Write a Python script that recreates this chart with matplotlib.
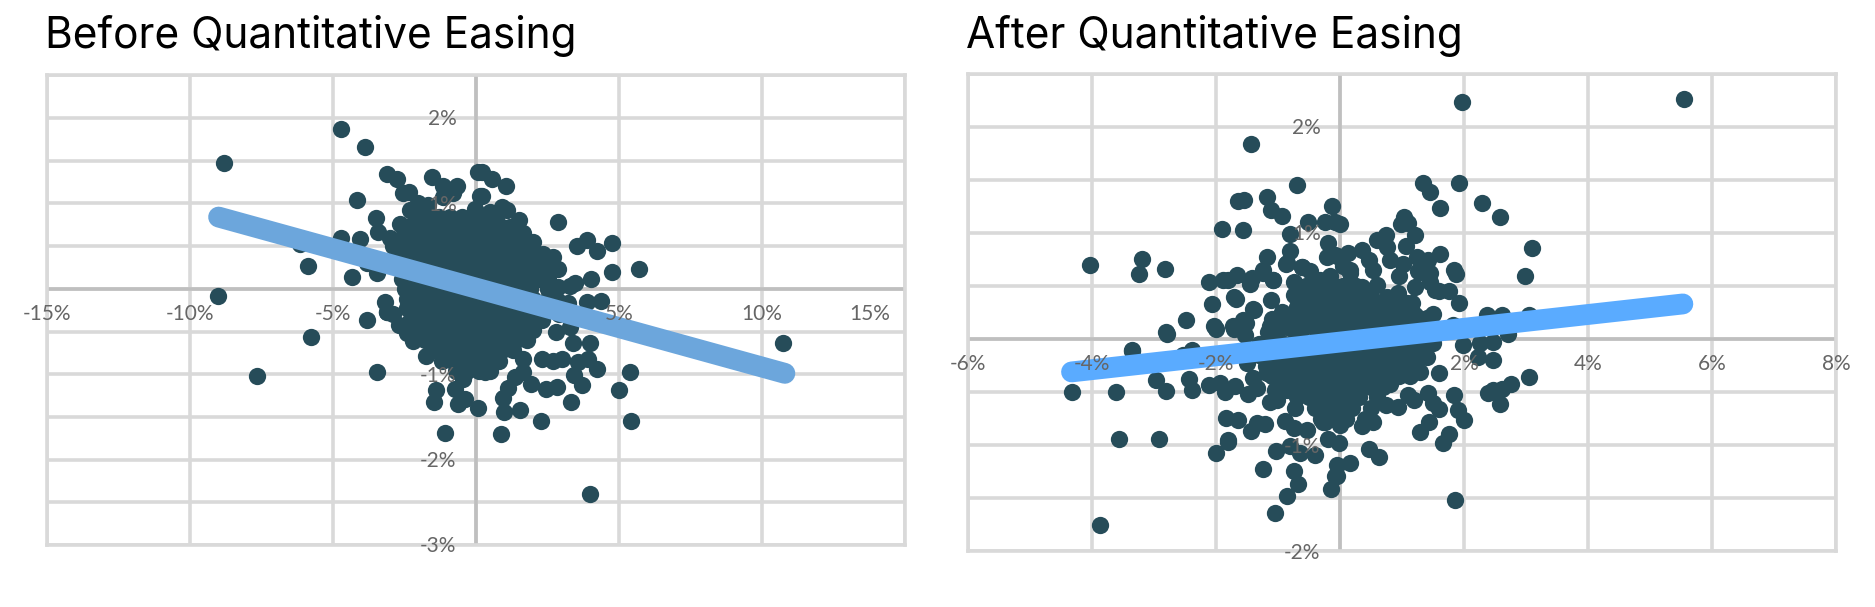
import matplotlib
matplotlib.use("Agg")
import matplotlib.pyplot as plt

plt.rcParams['font.family'] = ['Inter', 'DejaVu Sans']

W, H = 1875, 607
DOT = '#264C59'
GRID = '#D9D9D9'
ZERO = '#BFBFBF'
LABEL = '#666666'

# values, in percent
before_out = [(-8.81,1.47),(-4.72,1.87),(-3.87,1.66),(-3.10,1.35),(-2.75,1.29),(-1.55,1.31),(-1.14,1.20),(-0.68,1.20),
    (-2.56,1.12),(-2.33,1.13),(-4.17,1.04),(-3.51,0.83),(-5.86,0.27),(-4.34,0.14),(-9.03,-0.09),(-4.72,0.60),(-4.06,0.58),
    (-6.15,0.53),(-3.42,0.66),(-2.66,0.76),(-2.31,0.92),(-2.02,1.00),(-1.68,0.98),(-1.15,1.08),(-0.80,1.12),(0.07,1.37),
    (0.14,1.09),(-0.03,0.94),(-3.82,0.30),(-3.47,0.18),(-3.19,-0.16),(-3.12,-0.27),(-2.42,-0.23),(-3.82,-0.37),
    (0.20,1.37),(0.57,1.29),(1.04,1.20),(0.22,1.09),(0.90,0.96),(1.09,0.92),(0.49,0.90),(1.49,0.80),(1.66,0.65),(2.00,0.55),
    (2.88,0.78),(3.52,0.50),(3.87,0.57),(4.24,0.44),(4.74,0.54),(2.68,0.37),(2.86,0.23),(4.74,0.20),(5.71,0.23),(4.02,0.12),
    (3.46,0.07),(3.29,0.03),(2.88,0.02),(3.87,-0.15),(4.37,-0.14),(2.34,0.41),(3.22,-0.17),(2.87,-0.14),
    (-5.77,-0.57),(-3.10,-0.27),(-3.45,-0.97),(-2.21,-0.61),(-1.75,-0.79),(-1.40,-1.19),(-1.47,-1.32),(-0.73,-1.17),
    (-0.38,-1.29),(-0.62,-1.35),(0.06,-1.40),(-1.08,-1.69),(0.86,-1.70),(0.99,-1.44),(1.54,-1.42),(2.26,-1.55),(3.31,-1.33),
    (0.95,-1.28),(1.13,-1.16),(1.36,-1.03),(1.65,-0.97),(1.91,-1.12),(2.45,-1.17),(2.82,-1.15),(3.70,-1.13),(3.44,-1.01),
    (4.24,-0.94),(5.38,-0.97),(5.01,-1.18),(5.42,-1.55),(3.99,-2.40),(3.92,-0.82),(3.57,-0.86),(3.99,-0.63),(3.39,-0.64),
    (2.30,-0.82),(2.70,-0.85),(3.00,-0.82),(1.65,-0.82),(-0.44,-1.06),(0.31,-0.98),(10.75,-0.63),(-7.66,-1.02),
    (-2.5,0.72),(-2.2,0.76),(-3.0,0.60),(-2.9,0.50),(-1.9,0.86),(-2.9,-0.30),(-2.7,-0.42),(-2.4,-0.52),(-2.3,-0.38),(2.9,-0.3),(2.8,-0.5),(3.3,-0.45)]
before_core = {
    0.84: [-1.7,-1.3,-0.9,-0.5,-0.1,0.3,0.7],
    0.72: [-1.9,-1.5,-1.1,-0.7,-0.3,0.1,0.5,0.9,1.2],
    0.60: [-2.6,-2.2,-1.8,-1.4,-1.0,-0.6,-0.2,0.2,0.6,1.0,1.4],
    0.48: [-2.8,-2.4,-2.0,-1.6,-1.2,-0.8,-0.4,0.0,0.4,0.8,1.2,1.6,1.9],
    0.36: [-2.8,-2.4,-2.0,-1.6,-1.2,-0.8,-0.4,0.0,0.4,0.8,1.2,1.6,2.0,2.2],
    0.24: [-2.7,-2.3,-1.9,-1.5,-1.1,-0.7,-0.3,0.1,0.5,0.9,1.3,1.7,2.1,2.4],
    0.12: [-2.6,-2.2,-1.8,-1.4,-1.0,-0.6,-0.2,0.2,0.6,1.0,1.4,1.8,2.2,2.5],
    0.00: [-2.5,-2.1,-1.7,-1.3,-0.9,-0.5,-0.1,0.3,0.7,1.1,1.5,1.9,2.5],
    -0.12: [-2.4,-2.0,-1.6,-1.2,-0.8,-0.4,0.0,0.4,0.8,1.2,1.6,2.0,2.5],
    -0.24: [-2.3,-1.9,-1.5,-1.1,-0.7,-0.3,0.1,0.5,0.9,1.3,1.7,2.1,2.4],
    -0.36: [-2.1,-1.7,-1.3,-0.9,-0.5,-0.1,0.3,0.7,1.1,1.5,1.9,2.3],
    -0.48: [-2.0,-1.6,-1.2,-0.8,-0.4,0.0,0.4,0.8,1.2,1.6,2.0],
    -0.60: [-1.8,-1.4,-1.0,-0.6,-0.2,0.2,0.6,1.0,1.4,1.8],
    -0.72: [-1.5,-1.1,-0.7,-0.3,0.1,0.5,0.9,1.3],
    -0.84: [-1.2,-0.8,-0.4,0.0,0.4,0.8],
    -0.96: [-0.7,-0.3,0.1,0.5],
}
after_out = [(-1.44,1.84),(-0.70,1.45),(-1.17,1.34),(-1.65,1.30),(-1.55,1.31),(-1.11,1.21),(-0.93,1.16),(-0.13,1.25),(-0.52,1.10),
    (-0.25,1.10),(-0.08,1.10),(-0.80,0.99),(-1.91,1.04),(-1.56,1.03),(-0.19,0.90),(-0.81,0.83),(-1.17,0.77),(-0.86,0.72),(-0.21,0.77),
    (-0.05,0.78),(-4.03,0.70),(-3.19,0.75),(-3.25,0.61),(-2.82,0.66),(-2.12,0.54),(-1.89,0.56),(-1.80,0.56),(-1.66,0.60),(-1.45,0.52),
    (-1.42,0.57),(-1.24,0.62),(-1.08,0.56),(-0.62,0.68),(-0.48,0.64),(-0.74,0.54),(-0.75,0.41),(-2.06,0.33),(-1.71,0.40),(-1.11,0.37),
    (-1.41,0.28),(-0.94,0.25),(-1.10,0.19),(-2.49,0.18),(-2.03,0.12),(-1.56,0.18),(-1.72,0.12),(-2.80,0.07),(-1.13,0.12),(-0.70,0.10),
    (-0.32,0.56),(-0.16,0.59),(-0.60,0.49),(-0.38,0.43),(-0.16,0.43),(-0.54,0.30),(-0.27,0.27),(-0.05,0.27),(-0.65,0.24),(-0.43,0.18),
    (-0.16,0.15),(-0.05,0.49),(5.55,2.26),(1.97,2.23),(1.34,1.47),(1.45,1.38),(1.92,1.47),(1.62,1.23),(2.29,1.28),(2.58,1.15),(3.10,0.86),
    (2.98,0.59),(0.00,1.08),(1.04,1.15),(0.98,1.08),(1.10,1.09),(1.21,0.98),(0.74,0.98),(0.59,0.93),(1.06,0.88),(0.35,0.84),(0.13,0.81),
    (0.46,0.74),(1.61,0.80),(1.42,0.74),(1.24,0.77),(0.75,0.87),(0.81,0.74),(1.02,0.71),(1.84,0.65),(1.87,0.61),(1.26,0.64),(1.45,0.62),
    (1.45,0.54),(0.95,0.59),(0.59,0.51),(0.35,0.49),(0.16,0.62),(0.05,0.69),(0.54,0.65),(1.21,0.49),(1.75,0.45),(1.59,0.45),(1.92,0.34),
    (0.94,0.43),(1.16,0.34),(0.54,0.37),(1.50,0.24),(1.21,0.23),(2.37,0.23),(2.61,0.23),(3.05,0.23),(1.83,0.13),(0.91,0.24),(0.27,0.34),
    (-0.16,0.37),(0.00,0.24),(0.59,0.18),(-0.08,0.79),(0.16,0.65),(1.29,0.63),(1.53,0.46),(1.08,0.34),(1.18,0.24),
    (-1.53,0.04),(-1.16,0.07),(-1.02,0.02),(-0.73,0.08),(-1.45,0.54),(-1.24,0.65),(-1.08,0.56),(-0.87,0.71),(-0.62,0.68),
    (-0.15,-1.41),(1.85,-1.52),(-0.05,-1.29),(-0.05,-1.19),(0.16,-1.17),(0.47,-1.04),(0.63,-1.11),(-0.19,-0.94),(-0.01,-0.98),(1.29,-0.88),
    (1.44,-0.78),(1.66,-0.98),(1.76,-0.89),(2.00,-0.76),(1.91,-0.67),(1.84,-0.53),(1.59,-0.66),(1.50,-0.60),(1.42,-0.51),(1.20,-0.57),
    (1.10,-0.53),(0.94,-0.64),(0.74,-0.62),(0.54,-0.78),(0.35,-0.82),(0.00,-0.81),(-0.24,-0.78),(2.58,-0.61),(2.39,-0.51),(2.47,-0.48),
    (2.61,-0.47),(2.75,-0.42),(3.05,-0.36),(2.47,-0.20),(2.23,-0.17),(1.59,-0.32),(1.99,-0.06),(2.26,-0.04),(2.47,-0.03),(2.71,0.05),
    (1.50,-0.04),(1.40,-0.17),(1.29,-0.31),(1.13,-0.35),(0.81,-0.42),(0.59,-0.45),
    (-4.32,-0.50),(-3.62,-0.50),(-3.36,-0.10),(-2.79,0.05),(-2.96,-0.39),(-2.81,-0.49),(-2.43,-0.38),(-2.38,-0.48),(-2.12,-0.43),(-1.94,-0.41),
    (-1.85,-0.50),(-1.69,-0.44),(-1.48,-0.52),(-1.34,-0.46),(-2.38,-0.10),(-2.53,-0.15),(-3.56,-0.94),(-2.92,-0.94),(-2.00,-1.07),(-1.80,-0.95),
    (-1.80,-0.97),(-1.84,-0.74),(-1.65,-0.76),(-1.44,-0.87),(-1.34,-0.79),(-1.21,-0.80),(-1.03,-1.05),(-1.24,-1.22),(-0.74,-1.24),(-0.68,-1.37),
    (-0.85,-1.48),(-1.05,-1.64),(-3.87,-1.75),(-0.80,-1.01),(-0.65,-1.07),(-0.40,-1.09),(-0.08,-1.29),(-1.13,-0.59),(-1.01,-0.57),(-0.89,-0.77),
    (-0.75,-0.84),(-0.54,-0.86),(-0.27,-0.78),(-0.73,-0.65),(-1.05,-0.48),(-1.40,-0.37),(-1.18,-0.32),(-0.81,-0.26),(-0.54,-0.48),(-0.38,-0.61),
    (-0.16,-0.67),(-0.86,-0.48),(-0.44,-0.26),(-0.16,-0.32),(-0.76,-0.39),(-0.38,-0.41),(-0.05,-0.48),(-1.50,-0.23),(-1.08,-0.26),
    (-2.00,0.09),(-1.68,0.38),(-1.39,0.27),(-1.08,0.15),(-0.92,0.23),(-1.51,0.15),(-3.35,-0.11),(-1.71,0.09)]
after_core = {
    0.50: [-0.55,-0.35,-0.15,0.05,0.25],
    0.40: [-0.7,-0.5,-0.3,-0.1,0.1,0.3,0.5,0.75],
    0.30: [-0.7,-0.5,-0.3,-0.1,0.1,0.3,0.5,0.7,0.9,1.1],
    0.20: [-0.75,-0.55,-0.35,-0.15,0.05,0.25,0.45,0.65,0.85,1.05,1.25,1.4],
    0.10: [-1.0,-0.8,-0.6,-0.4,-0.2,0.0,0.2,0.4,0.6,0.8,1.0,1.2,1.4],
    -0.05: [-1.3,-1.1,-0.9,-0.7,-0.5,-0.3,-0.1,0.1,0.3,0.5,0.7,0.9,1.1,1.3],
    -0.15: [-1.3,-1.1,-0.9,-0.7,-0.5,-0.3,-0.1,0.1,0.3,0.5,0.7,0.9,1.1,1.3],
    -0.25: [-1.2,-1.0,-0.8,-0.6,-0.4,-0.2,0.0,0.2,0.4,0.6,0.8,1.0,1.2],
    -0.35: [-1.1,-0.9,-0.7,-0.5,-0.3,-0.1,0.1,0.3,0.5,0.7,0.95],
    -0.45: [-0.9,-0.7,-0.5,-0.3,-0.1,0.1,0.3,0.5,0.7],
    -0.55: [-0.7,-0.5,-0.3,-0.1,0.1,0.3,0.6],
    -0.65: [-0.4,-0.2,0.0,0.2,0.5],
    -0.75: [-0.3,-0.1,0.1,0.4],
}
before_line_x = [-9.0, 10.8]
before_line_y = [0.84, -0.99]
after_line_x = [-4.33, 5.53]
after_line_y = [-0.31, 0.33]

before_xlabels = {-15: '-15%', -10: '-10%', -5: '-5%', 5: '5%', 10: '10%', 13.75: '15%'}
before_ylabels = {2: '2%', 1: '1%', -1: '-1%', -2: '-2%', -3: '-3%'}
after_xlabels = {-6: '-6%', -4: '-4%', -2: '-2%', 2: '2%', 4: '4%', 6: '6%', 8: '8%'}
after_ylabels = {2: '2%', 1: '1%', -1: '-1%', -2: '-2%'}


def draw_panel(box, xlim, ylim, xstep, title, out, core, line_x, line_y, line_col, xlabels, ylabels):
    left, top, right, bottom = box
    ax = fig.add_axes([left / W, 1 - bottom / H, (right - left) / W, (bottom - top) / H])
    ax.set_xlim(*xlim)
    ax.set_ylim(*ylim)
    n = round((xlim[1] - xlim[0]) / xstep)
    ax.set_xticks([xlim[0] + i * xstep for i in range(n + 1)])
    n = round((ylim[1] - ylim[0]) / 0.5)
    ax.set_yticks([ylim[0] + i * 0.5 for i in range(n + 1)])
    ax.tick_params(length=0, labelbottom=False, labelleft=False)
    ax.grid(True, color=GRID, lw=2.6, zorder=0)
    ax.set_axisbelow(True)
    for s in ax.spines.values():
        s.set_color(GRID)
        s.set_linewidth(2.6)
    ax.axhline(0, color=ZERO, lw=2.6, zorder=1)
    ax.axvline(0, color=ZERO, lw=2.6, zorder=1)

    xs = [p[0] for p in out]
    ys = [p[1] for p in out]
    for y, row in core.items():
        xs += row
        ys += [y] * len(row)
    ax.scatter(xs, ys, s=155, color=DOT, linewidths=0, zorder=3, clip_on=False)
    ax.plot(line_x, line_y, color=line_col, lw=15, solid_capstyle='round', zorder=4)

    for x, t in xlabels.items():
        ax.annotate(t, (x, 0), xytext=(0, -18), textcoords='offset points', ha='center', va='center',
                    fontsize=15, color=LABEL, family=['Lato', 'DejaVu Sans'], zorder=5, annotation_clip=False)
    for y, t in ylabels.items():
        ax.annotate(t, (0, y), xytext=(-14, -1), textcoords='offset points', ha='right', va='center',
                    fontsize=15, color=LABEL, family=['Lato', 'DejaVu Sans'], zorder=5, annotation_clip=False)
    fig.text((left - 2) / W, 1 - 36 / H, title, fontsize=30.5, color='black', ha='left', va='center')


fig = plt.figure(figsize=(W / 100, H / 100), dpi=100, facecolor='white')
draw_panel((47, 75.3, 905, 545), (-15, 15), (-3, 2.5), 5, 'Before Quantitative Easing',
           before_out, before_core, before_line_x, before_line_y, '#6CA6DC', before_xlabels, before_ylabels)
draw_panel((968, 73.5, 1836, 551.4), (-6, 8), (-2, 2.5), 2, 'After Quantitative Easing',
           after_out, after_core, after_line_x, after_line_y, '#5AABFF', after_xlabels, after_ylabels)
fig.savefig('out.png', dpi=100)
